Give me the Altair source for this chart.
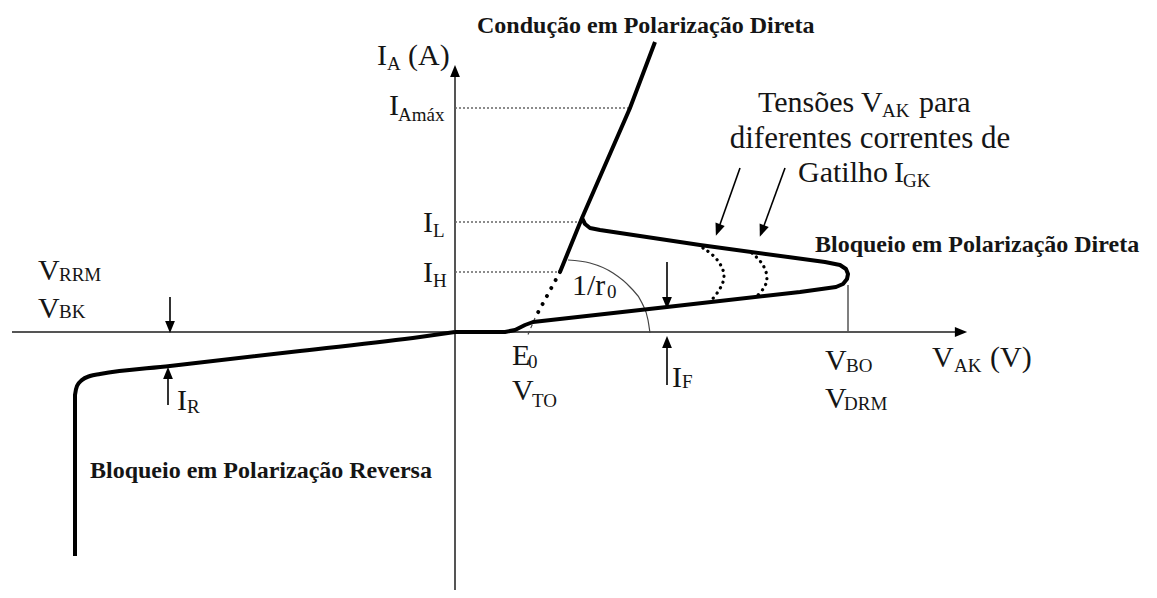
import altair as alt
import pandas as pd

# ---- curve values (diagram units, origin where the axes cross,
#      V_AK to the right, I_A upward) ----
rev_v = [-380, -380, -378, -373, -365, -355, -285, -155, -35, 0]
rev_i = [-224, -63, -54, -48, -44, -42, -34, -19, -5, 0]

fwd_v = [0, 50, 60, 70, 78, 212, 345, 381, 388, 392, 393, 391, 385, 370, 245, 145, 135, 130, 127]
fwd_i = [0, 0, 2, 7, 10, 25, 40, 45, 48, 53, 58, 63, 67, 70, 87, 102, 104, 108, 114]

cond_v = [105, 127, 175, 200]
cond_i = [60, 114, 224, 290]

ext_v = [105, 80]
ext_i = [60, 14]
tan_v = [80, 72]
tan_i = [14, -5]

gate1_v = [248, 260, 268, 270, 265, 255]
gate1_i = [84, 76, 64, 54, 42, 30]
gate2_v = [297, 307, 313, 311, 300]
gate2_i = [79, 70, 57, 45, 34]

arc_v = [113, 135, 158, 175, 187, 193, 195]
arc_i = [72, 69, 59, 45, 29, 12, -1]

# reference levels I_Amax, I_L, I_H
level_i = [224, 110, 60]
level_v_end = [175, 127, 105]
vbo_v = [393]
vbo_i = [47]

# axis extents
vak_range = [-443, 506]
ia_range = [-258, 261]

# annotation arrows (shaft start -> head)
arrow_v0 = [-285, -287, 212, 212, 285, 330]
arrow_i0 = [35, -73, 70, -53, 164, 164]
arrow_v1 = [-285, -287, 212, 212, 263, 307]
arrow_i1 = [5, -41, 29, -10, 102, 101]
arrow_dir = [180, 0, 180, 0, 200, 201]

# labels
main_text = ["I", "(A)", "I", "I", "I", "Tensões", "V", "para", "Gatilho", "I",
             "V", "V", "V", "(V)", "E", "V", "1/r", "I", "V", "V", "I"]
main_v = [-78, -47, -66, -32, -32, 303, 406, 464, 343, 439,
          370, 370, 477, 535, 57, 57, 117, 217, -417, -417, -278]
main_i = [267, 267, 217, 100, 50, 220, 220, 220, 150, 150,
          -38, -76, -35, -35, -33, -68, 37, -55, 52, 14, -78]

sub_text = ["A", "Amáx", "L", "H", "AK", "GK", "BO", "DRM", "AK", "0", "TO", "0", "F", "RRM", "BK", "R"]
sub_v = [-68, -57, -22, -22, 427, 448, 391, 389, 499, 73, 77, 152, 227, -396, -396, -268]
sub_i = [262, 211, 95, 45, 215, 145, -40, -78, -40, -36, -75, 34, -56, 51, 14, -81]

center_text = ["diferentes correntes de"]
center_v = [415]
center_i = [184]

bold_text = ["Condução em Polarização Direta", "Bloqueio em Polarização Direta",
             "Bloqueio em Polarização Reversa"]
bold_v = [22, 360, -365]
bold_i = [299, 80, -146]

X = alt.X("v:Q", scale=alt.Scale(domain=[-447, 694], nice=False, zero=False), axis=None)
Y = alt.Y("i:Q", scale=alt.Scale(domain=[-258, 324], nice=False, zero=False), axis=None)
FONT = "Liberation Serif"
INK = "#151515"


def line_df(vs, is_):
    return pd.DataFrame({"v": vs, "i": is_, "k": list(range(len(vs)))})


def line(vs, is_, **mark):
    return alt.Chart(line_df(vs, is_)).mark_line(**mark).encode(x=X, y=Y, order="k:Q")


layers = []

# axes
layers.append(line(vak_range, [0, 0], color="#555555", strokeWidth=2))
layers.append(line([0, 0], ia_range, color="#555555", strokeWidth=2))

# reference levels
lev = pd.DataFrame({"v": [0] * len(level_i), "v2": level_v_end, "i": level_i})
layers.append(alt.Chart(lev).mark_rule(color="#666666", strokeWidth=1.3, strokeDash=[2, 2]).encode(
    x=X, x2="v2:Q", y=Y))
vb = pd.DataFrame({"v": vbo_v, "i": [0], "i2": vbo_i})
layers.append(alt.Chart(vb).mark_rule(color="#555555", strokeWidth=1.5).encode(x=X, y=Y, y2="i2:Q"))

# 1/r0 arc and tangent
layers.append(line(arc_v, arc_i, color="#444444", strokeWidth=1.2, interpolate="monotone"))
layers.append(line(tan_v, tan_i, color="#444444", strokeWidth=1.2, strokeDash=[4, 3]))

# characteristic
layers.append(line(rev_v, rev_i, color="black", strokeWidth=4, interpolate="monotone", strokeJoin="round"))
layers.append(line(fwd_v, fwd_i, color="black", strokeWidth=4, interpolate="linear", strokeJoin="round"))
layers.append(line(cond_v, cond_i, color="black", strokeWidth=4, strokeCap="butt"))
layers.append(line(ext_v, ext_i, color="black", strokeWidth=4, strokeDash=[0.1, 9], strokeCap="round"))
layers.append(line(gate1_v, gate1_i, color="black", strokeWidth=3.2, strokeDash=[0.1, 6],
                   strokeCap="round", interpolate="basis"))
layers.append(line(gate2_v, gate2_i, color="black", strokeWidth=3.2, strokeDash=[0.1, 6],
                   strokeCap="round", interpolate="basis"))

# annotation arrows
arr = pd.DataFrame({"v": arrow_v0, "i": arrow_i0, "v2": arrow_v1, "i2": arrow_i1})
layers.append(alt.Chart(arr).mark_rule(color="black", strokeWidth=1.6).encode(
    x=X, y=Y, x2="v2:Q", y2="i2:Q"))

head_v = arrow_v1 + [0, vak_range[1]]
head_i = arrow_i1 + [ia_range[1], 0]
head_a = arrow_dir + [0, 90]
heads = pd.DataFrame({"v": head_v, "i": head_i, "a": head_a})
layers.append(alt.Chart(heads).mark_point(
    shape="M0,-1L0.8,1L-0.8,1Z", filled=True, color="black", opacity=1, size=150, strokeWidth=0
).encode(x=X, y=Y, angle=alt.Angle("a:Q", scale=None)))

# texts
mt = pd.DataFrame({"v": main_v, "i": main_i, "t": main_text})
layers.append(alt.Chart(mt).mark_text(font=FONT, fontSize=30, align="left", baseline="alphabetic",
                                      color=INK).encode(x=X, y=Y, text="t:N"))
st = pd.DataFrame({"v": sub_v, "i": sub_i, "t": sub_text})
layers.append(alt.Chart(st).mark_text(font=FONT, fontSize=19, align="left", baseline="alphabetic",
                                      color=INK).encode(x=X, y=Y, text="t:N"))
ct = pd.DataFrame({"v": center_v, "i": center_i, "t": center_text})
layers.append(alt.Chart(ct).mark_text(font=FONT, fontSize=31, align="center", baseline="alphabetic",
                                      color=INK).encode(x=X, y=Y, text="t:N"))
bt = pd.DataFrame({"v": bold_v, "i": bold_i, "t": bold_text})
layers.append(alt.Chart(bt).mark_text(font=FONT, fontSize=24, fontWeight="bold", align="left",
                                      baseline="alphabetic", color=INK).encode(x=X, y=Y, text="t:N"))

chart = alt.layer(*layers).properties(
    width=1141, height=582, autosize=alt.AutoSizeParams(type="none"), padding=0
).configure_view(strokeWidth=0)

chart.save("out.html", embed_options={"renderer": "svg", "actions": False})
